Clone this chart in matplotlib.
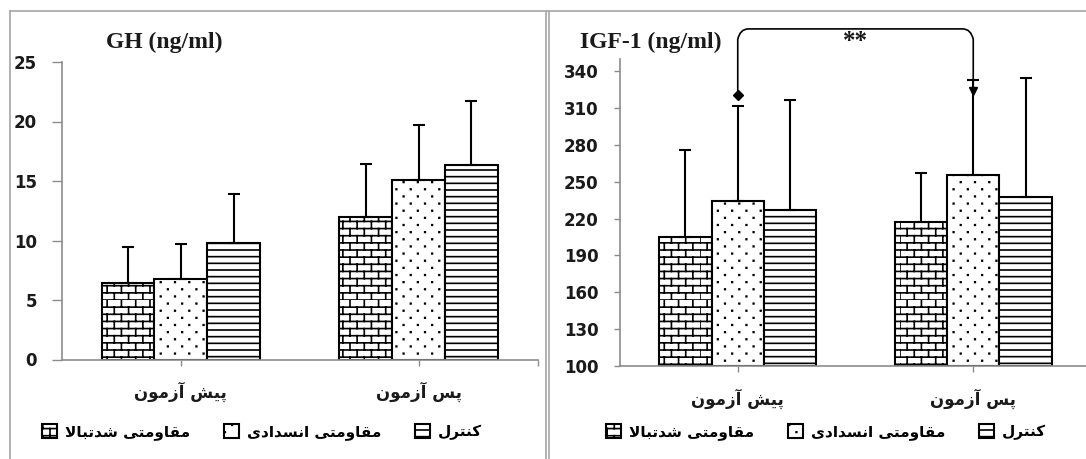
import warnings

import matplotlib
matplotlib.use('Agg')
import matplotlib.pyplot as plt
import numpy as np
from matplotlib import hatch as mhatch
from matplotlib.lines import Line2D
from matplotlib.path import Path
from matplotlib.patches import PathPatch

warnings.filterwarnings('ignore', message='hatch must consist')

# ---- data ----
groups = ['پیش آزمون', 'پس آزمون']
series = ['مقاومتی شدتبالا', 'مقاومتی انسدادی', 'کنترل']

gh_high = [6.45, 11.95]
gh_high_sd = [2.97, 4.5]
gh_bfr = [6.75, 15.05]
gh_bfr_sd = [2.92, 4.65]
gh_ctrl = [9.8, 16.35]
gh_ctrl_sd = [4.12, 5.35]

igf_high = [204.8, 217.3]
igf_high_sd = [70.9, 39.6]
igf_bfr = [234.7, 255.3]
igf_bfr_sd = [76.8, 77.7]
igf_ctrl = [226.8, 237.4]
igf_ctrl_sd = [90.1, 97.2]

gh_ticks = [0, 5, 10, 15, 20, 25]
igf_ticks = [100, 130, 160, 190, 220, 250, 280, 310, 340]


# ---- persian shaping (matplotlib has no arabic shaping / rtl) ----
FORMS = {
    'ا': ('\uFE8D', '\uFE8E', None, None),
    'آ': ('\uFE81', '\uFE82', None, None),
    'ب': ('\uFE8F', '\uFE90', '\uFE91', '\uFE92'),
    'پ': ('\uFB56', '\uFB57', '\uFB58', '\uFB59'),
    'ت': ('\uFE95', '\uFE96', '\uFE97', '\uFE98'),
    'د': ('\uFEA9', '\uFEAA', None, None),
    'ر': ('\uFEAD', '\uFEAE', None, None),
    'ز': ('\uFEAF', '\uFEB0', None, None),
    'س': ('\uFEB1', '\uFEB2', '\uFEB3', '\uFEB4'),
    'ش': ('\uFEB5', '\uFEB6', '\uFEB7', '\uFEB8'),
    'ق': ('\uFED5', '\uFED6', '\uFED7', '\uFED8'),
    'ک': ('\uFB8E', '\uFB8F', '\uFB90', '\uFB91'),
    'ل': ('\uFEDD', '\uFEDE', '\uFEDF', '\uFEE0'),
    'م': ('\uFEE1', '\uFEE2', '\uFEE3', '\uFEE4'),
    'ن': ('\uFEE5', '\uFEE6', '\uFEE7', '\uFEE8'),
    'و': ('\uFEED', '\uFEEE', None, None),
    'ی': ('\uFBFC', '\uFBFD', '\uFBFE', '\uFBFF'),
}
LAM_ALEF = {'ا': ('\uFEFB', '\uFEFC'), 'آ': ('\uFEF5', '\uFEF6')}


def joins_left(c):
    return c in FORMS and FORMS[c][2] is not None


def shape_fa(text):
    out = []
    i = 0
    while i < len(text):
        c = text[i]
        if c not in FORMS:
            if c != '\u200c':
                out.append(c)
            i += 1
            continue
        prev = text[i - 1] if i > 0 else ''
        nxt = text[i + 1] if i + 1 < len(text) else ''
        linked = joins_left(prev)
        if c == 'ل' and nxt in LAM_ALEF:
            out.append(LAM_ALEF[nxt][1 if linked else 0])
            i += 2
            continue
        to_next = joins_left(c) and nxt in FORMS
        iso, fin, ini, med = FORMS[c]
        if linked and to_next:
            out.append(med)
        elif linked:
            out.append(fin)
        elif to_next:
            out.append(ini)
        else:
            out.append(iso)
        i += 1
    return ''.join(reversed(out))


# ---- excel-like fill patterns ----
class BrickHatch(mhatch.HatchPatternBase):
    rows, cols = 14, 7

    def __init__(self, hatch, density):
        on = 'b' in hatch
        self.num_vertices = self.rows * (2 + 2 * self.cols) if on else 0

    def set_vertices_and_codes(self, vertices, codes):
        h, w = 1.0 / self.rows, 1.0 / self.cols
        k = 0
        for r in range(self.rows):
            y0 = r * h
            vertices[k] = (0.0, y0)
            vertices[k + 1] = (1.0, y0)
            codes[k], codes[k + 1] = Path.MOVETO, Path.LINETO
            k += 2
            off = 0.0 if r % 2 == 0 else w / 2
            for c in range(self.cols):
                x = c * w + off
                vertices[k] = (x, y0)
                vertices[k + 1] = (x, y0 + h)
                codes[k], codes[k + 1] = Path.MOVETO, Path.LINETO
                k += 2


class DotHatch(mhatch.HatchPatternBase):
    rows, cols = 14, 7
    s = 0.003

    def __init__(self, hatch, density):
        self.num_vertices = self.rows * self.cols * 5 if 'd' in hatch else 0

    def set_vertices_and_codes(self, vertices, codes):
        s = self.s
        k = 0
        for r in range(self.rows):
            y = (r + 0.5) / self.rows
            for c in range(self.cols):
                x = (c + 0.25 + 0.5 * (r % 2)) / self.cols
                vertices[k:k + 5] = [(x - s, y - s), (x + s, y - s),
                                     (x + s, y + s), (x - s, y + s),
                                     (x - s, y - s)]
                codes[k:k + 5] = [Path.MOVETO, Path.LINETO, Path.LINETO,
                                  Path.LINETO, Path.CLOSEPOLY]
                k += 5


class LineHatch(mhatch.HatchPatternBase):
    rows = 15

    def __init__(self, hatch, density):
        self.num_vertices = self.rows * 2 if 'h' in hatch else 0

    def set_vertices_and_codes(self, vertices, codes):
        ys = (np.arange(self.rows) + 0.5) / self.rows
        vertices[0::2, 0] = 0.0
        vertices[0::2, 1] = ys
        vertices[1::2, 0] = 1.0
        vertices[1::2, 1] = ys
        codes[0::2] = Path.MOVETO
        codes[1::2] = Path.LINETO


mhatch._hatch_types.extend([BrickHatch, DotHatch, LineHatch])

plt.rcParams['hatch.linewidth'] = 1.2
plt.rcParams['hatch.color'] = 'black'

AXIS_GREY = '#8c8c8c'
TEXT = '#1a1a1a'
hatches = ['b', 'd', 'h']
bar_w = 1 / 4.5


def draw_panel(ax, means, sds, ticks, ylim, ytick_len):
    x = np.arange(len(groups))
    base = ylim[0]
    for i, (m, sd) in enumerate(zip(means, sds)):
        xs = x + (i - 1) * bar_w
        ax.bar(xs, np.array(m) - base, bar_w, bottom=base,
               color='white', edgecolor='black', linewidth=1.5,
               hatch=hatches[i], label=shape_fa(series[i]), zorder=2)
        ax.errorbar(xs, m, yerr=[np.zeros(len(sd)), sd],
                    fmt='none', ecolor='black', elinewidth=1.5, capsize=4.5,
                    capthick=1.5, zorder=3)
    ax.set_xlim(-0.5, 1.5)
    ax.set_ylim(*ylim)
    ax.set_yticks(ticks)
    ax.set_yticklabels([str(t) for t in ticks], fontsize=12, fontweight='bold',
                       color=TEXT, fontfamily='DejaVu Sans')
    ax.set_xticks(list(x) + [1.5])
    ax.set_xticklabels([shape_fa(g) for g in groups] + [''], fontsize=12,
                       fontweight='bold', color=TEXT, fontfamily='DejaVu Sans')
    ax.tick_params(axis='y', length=ytick_len, width=1, color=AXIS_GREY, pad=11)
    ax.tick_params(axis='x', length=4, width=1, color=AXIS_GREY, pad=12)
    for side in ['top', 'right']:
        ax.spines[side].set_visible(False)
    for side in ['left', 'bottom']:
        ax.spines[side].set_color(AXIS_GREY)
        ax.spines[side].set_linewidth(1.2)
    ax.patch.set_alpha(0)


fig = plt.figure(figsize=(10.86, 4.59), dpi=100)
W, H = 1086, 459

ax1 = fig.add_axes([62 / W, 1 - 359.5 / H, 475.5 / W, 297.5 / H])
ax2 = fig.add_axes([620 / W, 1 - 366 / H, 471 / W, 307 / H])

draw_panel(ax1, [gh_high, gh_bfr, gh_ctrl], [gh_high_sd, gh_bfr_sd, gh_ctrl_sd],
           gh_ticks, (0, 25), 7)
draw_panel(ax2, [igf_high, igf_bfr, igf_ctrl], [igf_high_sd, igf_bfr_sd, igf_ctrl_sd],
           igf_ticks, (100, 350), 4.5)

for ax, cx in [(ax1, 262 / W), (ax2, 826 / W)]:
    ax.legend(loc='center', bbox_to_anchor=(cx, 1 - 432 / H),
              bbox_transform=fig.transFigure, ncol=3, frameon=False,
              prop={'family': 'DejaVu Sans', 'weight': 'bold', 'size': 11},
              handlelength=1.0, handleheight=1.0, handletextpad=0.5,
              columnspacing=2.2)

fig.text(106 / W, 1 - 42 / H, 'GH (ng/ml)', ha='left', va='center',
         fontfamily='Liberation Serif', fontweight='bold', fontsize=17, color=TEXT)
fig.text(580 / W, 1 - 42 / H, 'IGF-1 (ng/ml)', ha='left', va='center',
         fontfamily='Liberation Serif', fontweight='bold', fontsize=17, color=TEXT)

# significance bracket between pre and post (resistance with occlusion)
top = 374.5
bracket = Path([(0, 321), (0, 366), (0.01, top), (0.045, top), (0.955, top),
                (0.99, top), (1, 366), (1, 326)],
               [Path.MOVETO, Path.LINETO, Path.CURVE3, Path.CURVE3, Path.LINETO,
                Path.CURVE3, Path.CURVE3, Path.LINETO])
ax2.add_patch(PathPatch(bracket, fill=False, edgecolor='black', lw=1.2,
                        clip_on=False, zorder=4))
ax2.plot([0], [320.7], marker='D', ms=5, color='black', clip_on=False, zorder=5)
ax2.plot([1], [324], marker='v', ms=6, color='black', clip_on=False, zorder=5)
ax2.text(0.5, 364, '**', ha='center', va='center', fontsize=18,
         fontfamily='Liberation Serif', fontweight='bold', color=TEXT)

# panel frames
frame = dict(color='#a6a6a6', lw=1.2, transform=fig.transFigure)
fig.add_artist(Line2D([9.5 / W, 9.5 / W], [0, 1 - 11 / H], **frame))
fig.add_artist(Line2D([9.5 / W, 1], [1 - 11 / H, 1 - 11 / H], **frame))
fig.add_artist(Line2D([545.5 / W, 545.5 / W], [0, 1 - 11 / H], **frame))
fig.add_artist(Line2D([549 / W, 549 / W], [0, 1 - 11 / H], **frame))

fig.savefig('out.png', dpi=100)
